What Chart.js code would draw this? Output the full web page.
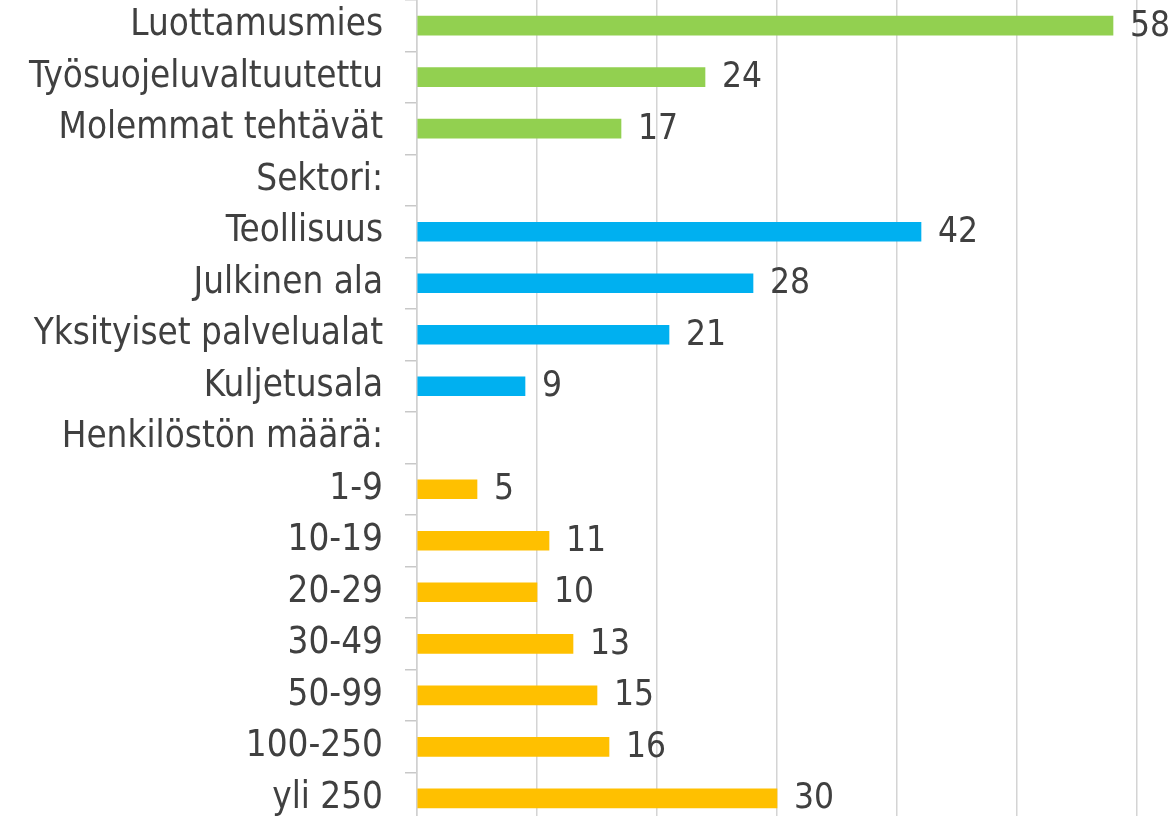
<!DOCTYPE html>
<html>
<head>
<meta charset="utf-8">
<script src="https://cdn.jsdelivr.net/npm/chart.js@4"></script>
<style>
  html, body { margin: 0; padding: 0; overflow: hidden; background: #ffffff; }
  #wrap { position: absolute; left: 0; top: -44px; width: 1175px; height: 912px; }
</style>
</head>
<body>
<div id="wrap"><canvas id="kysely"></canvas></div>
<script>
const kategoriat = ['Luottamusmies', 'Työsuojeluvaltuutettu', 'Molemmat tehtävät', 'Sektori:',
    'Teollisuus', 'Julkinen ala', 'Yksityiset palvelualat', 'Kuljetusala', 'Henkilöstön määrä:',
    '1-9', '10-19', '20-29', '30-49', '50-99', '100-250', 'yli 250']
const arvot = [58, 24, 17, null, 42, 28, 21, 9, null, 5, 11, 10, 13, 15, 16, 30]
const ryhmat = ['tehtava', 'tehtava', 'tehtava', null, 'sektori', 'sektori', 'sektori', 'sektori', null,
    'koko', 'koko', 'koko', 'koko', 'koko', 'koko', 'koko']

const varit = { tehtava: '#92D050', sektori: '#00B0F0', koko: '#FFC000' }
const fontti = '"DejaVu Sans Condensed", "DejaVu Sans", sans-serif'

const palkkiVarit = ryhmat.map(r => r ? varit[r] : 'rgba(0,0,0,0)')

// arvot palkkien perään
const arvoTekstit = {
    id: 'arvoTekstit',
    afterDatasetsDraw(chart) {
        const ctx = chart.ctx
        const meta = chart.getDatasetMeta(0)
        ctx.save()
        ctx.font = '35px ' + fontti
        ctx.fillStyle = '#404040'
        ctx.textAlign = 'left'
        ctx.textBaseline = 'middle'
        meta.data.forEach((bar, i) => {
            if (arvot[i] == null) return
            ctx.fillText(String(arvot[i]), bar.x + 17, bar.y + 1)
        })
        ctx.restore()
    }
}

const kysely = document.getElementById('kysely').getContext('2d')

new Chart(kysely, {
    type: 'bar',
    data: {
        labels: kategoriat,
        datasets: [{
            data: arvot,
            backgroundColor: palkkiVarit,
            borderWidth: 0,
            barThickness: 19
        }]
    },
    options: {
        indexAxis: 'y',
        responsive: true,
        maintainAspectRatio: false,
        animation: false,
        layout: { padding: { left: 0, right: 38, top: 0, bottom: 0 } },
        scales: {
            x: {
                min: 0,
                max: 60,
                ticks: { display: false, stepSize: 10 },
                grid: { color: '#d4d4d4', lineWidth: 1.5, drawTicks: false },
                border: { display: false }
            },
            y: {
                afterFit: (scale) => { scale.width = 417 },
                ticks: {
                    color: '#404040',
                    padding: 22,
                    font: { family: fontti, size: 36.5 }
                },
                grid: { drawOnChartArea: false, drawTicks: true, tickLength: 12, color: '#c8c8c8', lineWidth: 1.5 },
                border: { display: true, color: '#d0d0d0', width: 1.5 }
            }
        },
        plugins: {
            legend: { display: false },
            tooltip: { enabled: false }
        }
    },
    plugins: [arvoTekstit]
});
</script>
</body>
</html>
